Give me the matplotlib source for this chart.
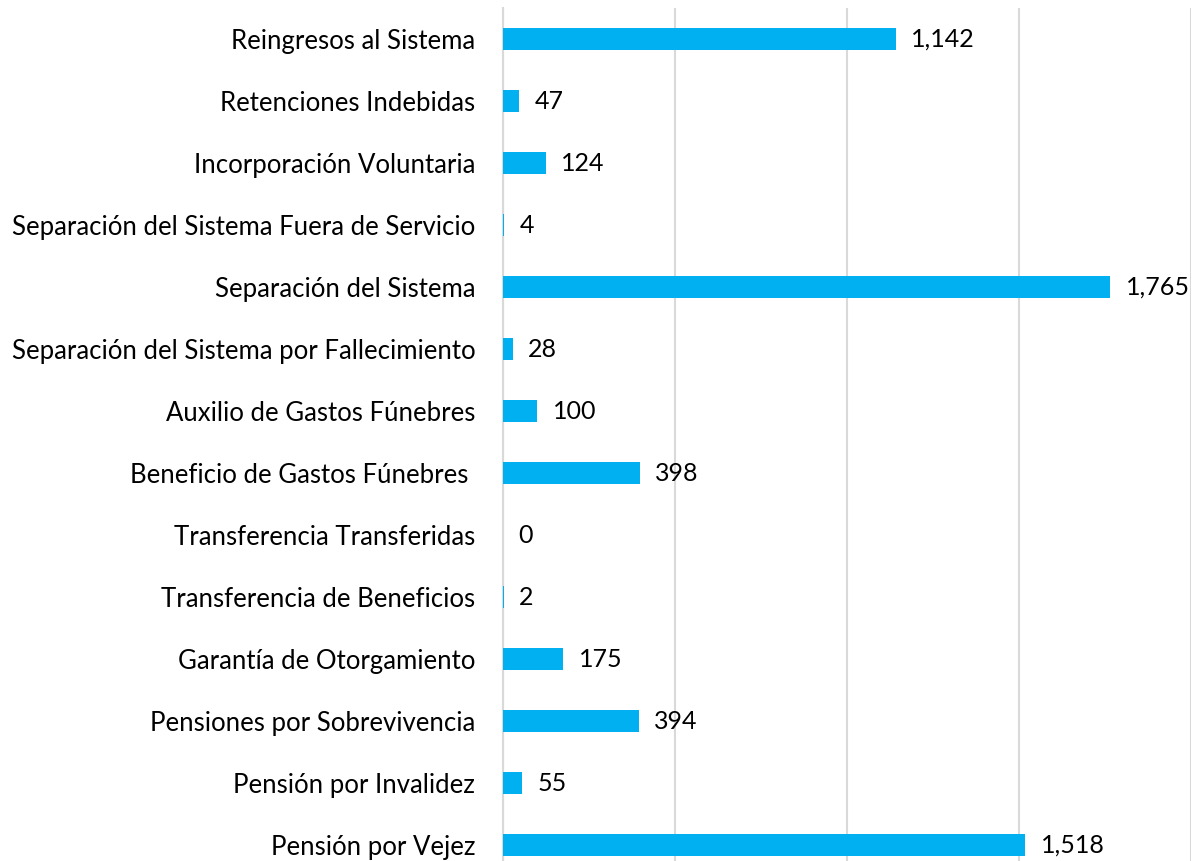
import matplotlib.pyplot as plt
import numpy as np

plt.rcParams['font.family'] = ['Lato', 'DejaVu Sans']

categories = [
    'Reingresos al Sistema',
    'Retenciones Indebidas',
    'Incorporación Voluntaria',
    'Separación del Sistema Fuera de Servicio',
    'Separación del Sistema',
    'Separación del Sistema por Fallecimiento',
    'Auxilio de Gastos Fúnebres',
    'Beneficio de Gastos Fúnebres ',
    'Transferencia Transferidas',
    'Transferencia de Beneficios',
    'Garantía de Otorgamiento',
    'Pensiones por Sobrevivencia',
    'Pensión por Invalidez',
    'Pensión por Vejez',
]
values = [1142, 47, 124, 4, 1765, 28, 100, 398, 0, 2, 175, 394, 55, 1518]

BLUE = '#00B0F0'
GRID = '#D9D9D9'

fig = plt.figure(figsize=(12.02, 8.61), dpi=100)
# axes box in pixels: x 503..1191, y 8..876 (bottom runs past the figure edge)
ax = fig.add_axes([503 / 1202, (861 - 876) / 861, (1191 - 503) / 1202, 868 / 861])

y = np.arange(len(categories))
ax.barh(y, values, height=0.35, color=BLUE, edgecolor='none', linewidth=0, zorder=3)

for yi, v in zip(y, values):
    ax.text(v + 45, yi, '{:,}'.format(v), va='center', ha='left',
            fontsize=18, color='black')

ax.set_xlim(0, 2000)
ax.set_ylim(len(categories) - 0.5, -0.5)
ax.set_yticks(y)
ax.set_yticklabels(categories, fontsize=18.5)
ax.set_xticks([0, 500, 1000, 1500, 2000])
ax.tick_params(axis='x', bottom=False, labelbottom=False)
ax.tick_params(axis='y', length=0, pad=20)
ax.grid(axis='x', color=GRID, linewidth=1.5, zorder=0)

for side in ['top', 'right', 'bottom']:
    ax.spines[side].set_visible(False)
ax.spines['left'].set_color(GRID)
ax.spines['left'].set_linewidth(1.5)

fig.savefig('out.png', dpi=100)
